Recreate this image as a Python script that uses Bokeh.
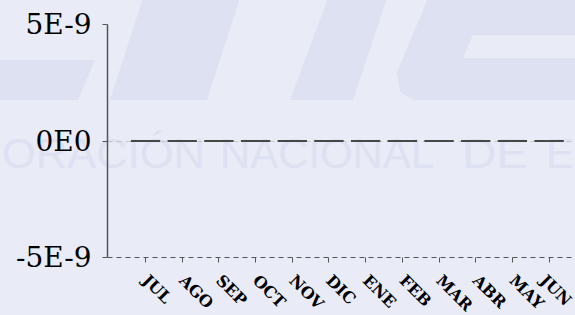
import math
from bokeh.plotting import figure
from bokeh.models import Range1d, FixedTicker
from bokeh.embed import file_html
from bokeh.resources import INLINE

# ---- data ----
months = ["JUL", "AGO", "SEP", "OCT", "NOV", "DIC", "ENE", "FEB", "MAR", "ABR", "MAY", "JUN"]
values = [0, 0, 0, 0, 0, 0, 0, 0, 0, 0, 0, 0]
y_ticks = [-5e-9, 0.0, 5e-9]
y_tick_labels = ["-5E-9", "0E0", "5E-9"]

BG = "#e9ebf6"
WM = "#dee1f2"

FRAME_L, FRAME_T, FRAME_W, FRAME_H = 107, 24, 468, 233

x = list(range(len(months)))

p = figure(frame_width=FRAME_W, frame_height=FRAME_H,
           x_range=Range1d(-1.036, 11.72), y_range=Range1d(y_ticks[0], y_ticks[-1]),
           output_backend="svg", toolbar_location=None,
           min_border_left=FRAME_L, min_border_right=0, min_border_top=FRAME_T, min_border_bottom=20,
           background_fill_alpha=0, border_fill_alpha=0, outline_line_color=None)

# ---- data marks ----
p.vbar(x=x, top=values, bottom=0, width=0.8, fill_color=None,
       line_color="#474747", line_width=2)

# x axis
p.xaxis.ticker = FixedTicker(ticks=x)
p.xaxis.major_label_overrides = {i: m for i, m in zip(x, months)}
p.xaxis.major_label_orientation = -math.pi / 4
p.xaxis.major_label_text_font = "DejaVu Serif"
p.xaxis.major_label_text_font_style = "bold"
p.xaxis.major_label_text_font_size = "16px"
p.xaxis.major_label_text_color = "black"
p.xaxis.major_label_standoff = 15
p.xaxis.axis_line_color = "#555555"
p.xaxis.axis_line_dash = "5 4"
p.xaxis.major_tick_in = 0
p.xaxis.major_tick_out = 5
p.xaxis.major_tick_line_color = "#555555"
p.xaxis.minor_tick_line_color = None

# y axis
p.yaxis.ticker = FixedTicker(ticks=y_ticks)
p.yaxis.major_label_overrides = {v: s for v, s in zip(y_ticks, y_tick_labels)}
p.yaxis.major_label_text_font = "DejaVu Serif"
p.yaxis.major_label_text_font_size = "28px"
p.yaxis.major_label_text_color = "black"
p.yaxis.major_label_standoff = 11
p.yaxis.axis_line_color = "#555555"
p.yaxis.axis_line_width = 1.5
p.yaxis.major_tick_in = 0
p.yaxis.major_tick_out = 5
p.yaxis.major_tick_line_color = "#555555"
p.yaxis.minor_tick_line_color = None

p.xgrid.grid_line_color = None
p.ygrid.ticker = FixedTicker(ticks=y_ticks)
p.ygrid.grid_line_color = "#c8c8c8"
p.ygrid.grid_line_dash = "5 4"

# ---- faint page watermark behind the transparent chart (decoration only) ----
wm_polys = [
    [(-2, 60), (95, 60), (78, 100), (-2, 100)],
    [(143, -2), (240, -2), (207, 100), (110, 100)],
    [(328, -2), (387, -2), (353, 100), (290, 100)],
    [(428, -2), (577, -2), (577, 100), (414, 100), (400, 92), (397, 72)],
]
notch = [(473, 35), (577, 35), (577, 58), (463, 58)]
wm_words = [("ORACIÓN", 2, 203), ("NACIONAL", 220, 214), ("DE", 462, 66), ("E", 546, 28)]


def pts(poly):
    return " ".join("%g,%g" % pt for pt in poly)


svg = ['<svg xmlns="http://www.w3.org/2000/svg" width="575" height="315" '
       'style="position:absolute;left:0;top:0;z-index:-1">']
for poly in wm_polys:
    svg.append('<polygon points="%s" fill="%s"/>' % (pts(poly), WM))
svg.append('<polygon points="%s" fill="%s"/>' % (pts(notch), BG))
for word, wx, wl in wm_words:
    svg.append('<text x="%d" y="168" font-family="Liberation Sans" font-size="42" '
               'fill="%s" textLength="%d" lengthAdjust="spacingAndGlyphs">%s</text>'
               % (wx, WM, wl, word))
svg.append('</svg>')

html = file_html(p, INLINE)
i = html.rfind("<body")
j = html.index(">", i)
html = (html[:i] + '<body style="background:%s;overflow:hidden">' % BG
        + "".join(svg) + html[j + 1:])
open("out.html", "w").write(html)
